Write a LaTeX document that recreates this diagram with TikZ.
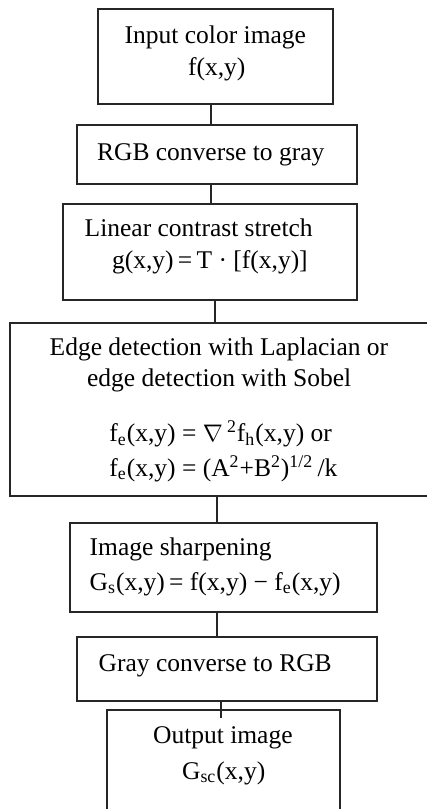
\documentclass[tikz,border=0pt]{standalone}
\usepackage{fontspec}
\setmainfont{Liberation Serif}
\begin{document}
\begin{tikzpicture}[x=0.5pt,y=-0.5pt,
  boxst/.style={draw=black!85, line width=1pt, inner sep=0pt, fill=none},
  conn/.style={draw=black!85, line width=1pt},
  txt/.style={anchor=base west, inner sep=0pt, font=\fontsize{12.75}{15}\selectfont}]
\useasboundingbox[fill=white] (0,0) rectangle (427,809);
% boxes
\node[boxst, minimum width=117.5pt, minimum height=47.35pt] (b1) at (215.2,56.65) {};
\node[boxst, minimum width=140.15pt, minimum height=29.5pt] (b2) at (216.85,154.5) {};
\node[boxst, minimum width=146.85pt, minimum height=48pt] (b3) at (210.15,252) {};
\node[boxst, minimum width=210.85pt, minimum height=86.2pt] (b4) at (221.15,409.5) {};
\node[boxst, minimum width=153.35pt, minimum height=44.8pt] (b5) at (223.35,567.5) {};
\node[boxst, minimum width=150pt, minimum height=32pt] (b6) at (226.7,668.7) {};
\node[boxst, minimum width=116.5pt, minimum height=64.85pt] (b7) at (223.8,775.15) {};
% connector x positions
\coordinate (x1) at (210.5,0);
\coordinate (x2) at (210.7,0);
\coordinate (x3) at (215,0);
\coordinate (x4) at (216.7,0);
\coordinate (x5) at (216.7,0);
\coordinate (e7) at (221,718.3);
\draw[conn] (b1.south -| x1) -- (b2.north -| x1);
\draw[conn] (b2.south -| x2) -- (b3.north -| x2);
\draw[conn] (b3.south -| x3) -- (b4.north -| x3);
\draw[conn] (b4.south -| x4) -- (b5.north -| x4);
\draw[conn] (b5.south -| x5) -- (b6.north -| x5);
\draw[conn] (b6.south -| e7) -- (e7);
% texts
\node[txt] (t1a) at (124.3,43.3) {Input color image};
\node[txt] (t1b) at (187.7,75.5) {f(x,y)};
\node[txt] (t2) at (96.7,160) {RGB converse to gray};
\node[txt] (t3a) at (84.3,236.7) {Linear contrast stretch};
\node[txt] (t3b) at (111.7,268.3) {g(x,y)\,=\,T · [f(x,y)]};
\node[txt] (t4a) at (49.3,355.7) {Edge detection with Laplacian or};
\node[txt] (t4b) at (86.7,386.7) {edge detection with Sobel};
\node[txt] (t4c) at (109,441.7) {f\textsubscript{e}(x,y) = $\nabla$\,\textsuperscript{2}f\textsubscript{h}(x,y) or};
\node[txt] (t4d) at (109,476) {f\textsubscript{e}(x,y) = (A\textsuperscript{2}+B\textsuperscript{2})\textsuperscript{1/2}\,/k};
\node[txt] (t5a) at (89.3,555) {Image sharpening};
\node[txt] (t5b) at (89.3,590) {G\textsubscript{s}(x,y)\,= f(x,y) − f\textsubscript{e}(x,y)};
\node[txt] (t6) at (98.3,671.7) {Gray converse to RGB};
\node[txt] (t7a) at (152.7,743.3) {Output image};
\node[txt] (t7b) at (181.7,779.3) {G\textsubscript{sc}(x,y)};
\end{tikzpicture}
\end{document}
